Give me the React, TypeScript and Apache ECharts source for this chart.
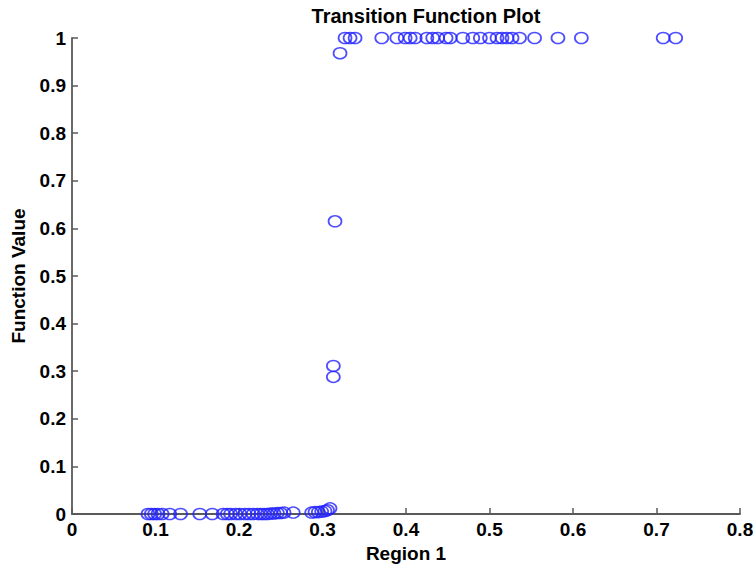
import React, { useEffect, useRef } from "react";
import * as echarts from "echarts";

const lowX = [0.091, 0.095, 0.099, 0.103, 0.108, 0.117, 0.130, 0.153, 0.168, 0.181, 0.186, 0.190, 0.196, 0.201, 0.207, 0.212, 0.217, 0.222, 0.226, 0.230, 0.234, 0.238, 0.242, 0.246, 0.250, 0.254, 0.265, 0.287, 0.291, 0.295, 0.299, 0.303, 0.306, 0.309];
const lowY = [0, 0, 0, 0, 0, 0, 0, 0, 0, 0, 0, 0, 0, 0, 0, 0, 0, 0, 0, 0, 0, 0.001, 0.001, 0.002, 0.002, 0.003, 0.003, 0.003, 0.004, 0.004, 0.005, 0.006, 0.008, 0.012];
const midX = [0.315, 0.313, 0.313, 0.321];
const midY = [0.615, 0.311, 0.288, 0.968];
const highX = [0.327, 0.333, 0.339, 0.371, 0.389, 0.399, 0.405, 0.411, 0.425, 0.432, 0.438, 0.448, 0.453, 0.468, 0.480, 0.489, 0.500, 0.509, 0.515, 0.521, 0.527, 0.536, 0.554, 0.582, 0.610, 0.708, 0.723];
const highY = highX.map(() => 1);

const xTicks = [0, 0.1, 0.2, 0.3, 0.4, 0.5, 0.6, 0.7, 0.8];
const yTicks = [0, 0.1, 0.2, 0.3, 0.4, 0.5, 0.6, 0.7, 0.8, 0.9, 1];

export default function App() {
  const ref = useRef<HTMLDivElement>(null);
  useEffect(() => {
    if (!ref.current) return;
    const chart = echarts.init(ref.current, null, { renderer: "svg" });
    const pts: number[][] = [];
    lowX.forEach((x, i) => pts.push([x, lowY[i]]));
    midX.forEach((x, i) => pts.push([x, midY[i]]));
    highX.forEach((x, i) => pts.push([x, highY[i]]));
    const font = "'Liberation Sans', Arial, sans-serif";
    const axisColor = "#5a5a5a";
    const labelStyle = {
      fontSize: 19,
      fontWeight: "bold",
      color: "#000",
      fontFamily: font,
      formatter: (v: number) => String(+v.toFixed(1)),
    };
    chart.setOption({
      animation: false,
      backgroundColor: "#fff",
      textStyle: { fontFamily: font },
      title: {
        text: "Transition Function Plot",
        left: 421,
        top: 1,
        textAlign: "center",
        textStyle: { fontSize: 20, fontWeight: "bold", color: "#000", fontFamily: font },
      },
      grid: { left: 72, right: 13, top: 38, bottom: 52, containLabel: false, outerBoundsMode: "none" },
      xAxis: {
        type: "value",
        min: xTicks[0],
        max: xTicks[xTicks.length - 1],
        interval: 0.1,
        name: "Region 1",
        nameLocation: "middle",
        nameGap: 26,
        nameTextStyle: { fontSize: 19, fontWeight: "bold", color: "#000", fontFamily: font, verticalAlign: "top" },
        axisLine: { show: true, lineStyle: { color: axisColor, width: 1.8 } },
        axisTick: { show: true, inside: true, length: 6, lineStyle: { color: axisColor, width: 1.5 } },
        axisLabel: { ...labelStyle, margin: 6 },
        splitLine: { show: false },
      },
      yAxis: {
        type: "value",
        min: yTicks[0],
        max: yTicks[yTicks.length - 1],
        interval: 0.1,
        name: "Function Value",
        nameLocation: "middle",
        nameGap: 44,
        nameTextStyle: { fontSize: 19, fontWeight: "bold", color: "#000", fontFamily: font },
        axisLine: { show: true, lineStyle: { color: axisColor, width: 1.8 } },
        axisTick: { show: true, inside: true, length: 6, lineStyle: { color: axisColor, width: 1.5 } },
        axisLabel: { ...labelStyle, margin: 6 },
        splitLine: { show: false },
      },
      series: [
        {
          type: "scatter",
          data: pts,
          symbol: "circle",
          symbolSize: [13, 11],
          clip: false,
          itemStyle: { color: "rgba(0,0,0,0)", borderColor: "#2222ff", borderWidth: 1.6 },
        },
      ],
    });
    return () => chart.dispose();
  }, []);
  return <div ref={ref} style={{ width: 753, height: 566, position: "absolute", left: 0, top: 0 }} />;
}
